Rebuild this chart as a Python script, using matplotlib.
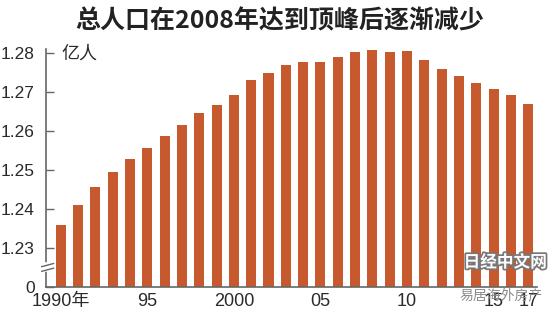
import matplotlib
matplotlib.use("Agg")
import matplotlib.pyplot as plt
import matplotlib.patheffects as pe

plt.rcParams['font.family'] = ['Liberation Sans', 'Noto Sans CJK SC', 'DejaVu Sans']

# Japan total population, 100 million people (亿人)
years = list(range(1990, 2018))
population = [1.2361, 1.2410, 1.2457, 1.2495, 1.2528, 1.2558, 1.2587, 1.2616,
              1.2648, 1.2668, 1.2694, 1.2732, 1.2749, 1.2769, 1.2779, 1.2777,
              1.2791, 1.2803, 1.2808, 1.2803, 1.2806, 1.2783, 1.2759, 1.2742,
              1.2724, 1.2709, 1.2694, 1.2670]

ytick_vals = [1.22, 1.23, 1.24, 1.25, 1.26, 1.27, 1.28]
ytick_labels = ['0', '1.23', '1.24', '1.25', '1.26', '1.27', '1.28']
xtick_vals = [1990, 1995, 2000, 2005, 2010, 2015, 2017]
xtick_labels = ['1990年', '95', '2000', '05', '10', '15', '17']

title = '总人口在2008年达到顶峰后逐渐减少'
unit = '亿人'

bar_color = '#c65a2e'
axis_color = '#666666'
text_color = '#2a2a2a'

fig = plt.figure(figsize=(5.6, 3.21), dpi=100)
fig.patch.set_facecolor('white')
ax = fig.add_axes([0.0816, 0.105, 0.877, 0.741])

ax.bar(years, population, width=0.58, color=bar_color, zorder=2)

ax.set_xlim(1989.13, 2017.5)
ax.set_ylim(1.22, 1.281)

ax.set_yticks(ytick_vals)
ax.set_yticklabels(ytick_labels, fontsize=12.5, color=text_color)
ax.tick_params(axis='y', direction='in', length=6, width=1, color=axis_color, pad=8)

ax.set_xticks(xtick_vals)
ax.set_xticklabels(xtick_labels, fontsize=13, color=text_color)
ax.tick_params(axis='x', length=0, pad=4)

for side in ['top', 'right']:
    ax.spines[side].set_visible(False)
for side in ['left', 'bottom']:
    ax.spines[side].set_color(axis_color)
    ax.spines[side].set_linewidth(1.2)

# axis break marks between 0 and 1.23
trans = ax.get_yaxis_transform()
ax.plot([0, 0], [1.2247, 1.2257], color='white', lw=4, transform=trans,
        clip_on=False, zorder=5)
for yb in [1.2245, 1.2257]:
    ax.plot([-0.008, 0.016], [yb - 0.0004, yb + 0.0004], color=axis_color, lw=1,
            transform=trans, clip_on=False, zorder=6)

ax.text(0.032, 1.28, unit, transform=trans, fontsize=13, color=text_color,
        va='center', ha='left', family=['Noto Sans CJK SC'])

fig.text(0.5, 0.935, title, ha='center', va='center', fontsize=18,
         fontweight='bold', color='#222222', family=['Noto Sans CJK SC'])

# watermarks
fig.text(0.902, 0.183, '日经中文网', ha='center', va='center', fontsize=12,
         fontweight='bold', color='white', family=['Noto Sans CJK SC'],
         path_effects=[pe.withStroke(linewidth=2.5, foreground='#777777')])
fig.text(0.895, 0.08, '易居海外房产', ha='center', va='center', fontsize=10,
         color='#8a8a8a', family=['Noto Sans CJK SC'])

fig.savefig('out.png', dpi=100, facecolor='white')
